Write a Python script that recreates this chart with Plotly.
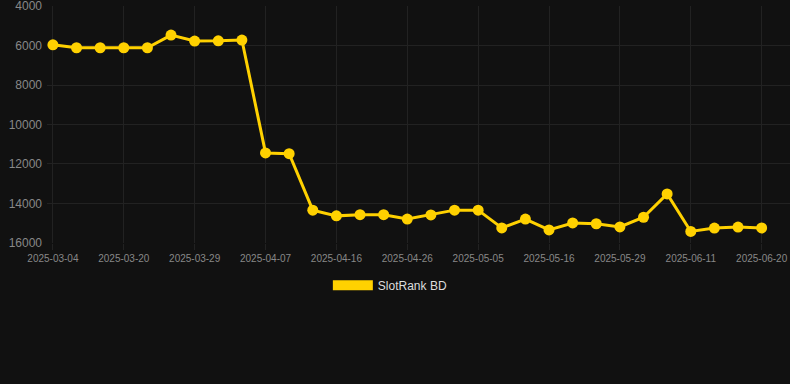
import plotly.graph_objects as go

dates = ["2025-03-04", "2025-03-09", "2025-03-15", "2025-03-20", "2025-03-23", "2025-03-26",
         "2025-03-29", "2025-04-01", "2025-04-04", "2025-04-07", "2025-04-10", "2025-04-13",
         "2025-04-16", "2025-04-19", "2025-04-23", "2025-04-26", "2025-04-29", "2025-05-02",
         "2025-05-05", "2025-05-09", "2025-05-12", "2025-05-16", "2025-05-20", "2025-05-25",
         "2025-05-29", "2025-06-02", "2025-06-06", "2025-06-11", "2025-06-14", "2025-06-17",
         "2025-06-20"]
rank = [5960, 6110, 6110, 6110, 6110, 5470, 5770, 5760, 5720, 11440, 11480, 14340,
        14630, 14570, 14570, 14790, 14580, 14340, 14340, 15240, 14790, 15340, 14990,
        15030, 15190, 14700, 13520, 15420, 15250, 15200, 15240]
tick_labels = dates[::3]
y_ticks = [4000, 6000, 8000, 10000, 12000, 14000, 16000]
series_name = "SlotRank BD"

gold = "#FFD100"
fig = go.Figure()
fig.add_trace(go.Scatter(
    x=dates, y=rank, mode="lines+markers", name=series_name, showlegend=False,
    line=dict(color=gold, width=3), marker=dict(color=gold, size=11),
))
fig.add_trace(go.Scatter(
    x=[dates[0]], y=[None], mode="lines", name=series_name, showlegend=True,
    line=dict(color=gold, width=11),
))
fig.update_layout(
    width=790, height=384,
    paper_bgcolor="#111111", plot_bgcolor="#111111",
    margin=dict(l=47, r=0, t=6, b=141),
    font=dict(family="Liberation Sans, Arial, sans-serif", color="#888888"),
    showlegend=True,
    legend=dict(orientation="h", x=0.378, xanchor="left", y=-0.117, yanchor="top",
                font=dict(size=12, color="#dddddd"), itemwidth=40, bgcolor="rgba(0,0,0,0)"),
)
fig.update_xaxes(
    type="category", categoryorder="array", categoryarray=dates,
    range=[-0.25, 31.2], tickvals=tick_labels, ticktext=tick_labels,
    tickfont=dict(size=10, color="#888888"),
    showgrid=True, gridcolor="#222222", gridwidth=1,
    ticks="outside", ticklen=6, tickcolor="#222222",
    showline=False, zeroline=False, tickangle=0,
)
fig.update_yaxes(
    range=[16005, 3995], tickvals=y_ticks, ticktext=[str(v) for v in y_ticks],
    tickfont=dict(size=12, color="#888888"),
    showgrid=True, gridcolor="#222222", gridwidth=1,
    ticks="", showline=False, zeroline=False, ticklabelstandoff=4,
    ticklabeloverflow="allow",
)
fig.write_html("out.html", config={"displayModeBar": False},
               post_script="document.body.style.margin='0';document.body.style.background='#111111';")
